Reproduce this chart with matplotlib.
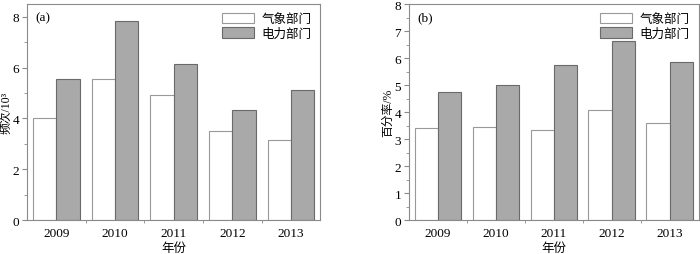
import numpy as np
import matplotlib
matplotlib.use('Agg')
import matplotlib.pyplot as plt
from matplotlib.ticker import MultipleLocator, FixedLocator

years = ['2009', '2010', '2011', '2012', '2013']
freq_met = [4.03, 5.54, 4.91, 3.51, 3.17]
freq_power = [5.54, 7.85, 6.13, 4.35, 5.10]
pct_met = [3.40, 3.46, 3.32, 4.06, 3.58]
pct_power = [4.75, 5.00, 5.73, 6.62, 5.86]
labels = ['气象部门', '电力部门']

plt.rcParams['font.family'] = ['Liberation Serif', 'Noto Sans CJK SC']
plt.rcParams['font.size'] = 9.5

spine_col = '#8a8a8a'
fig = plt.figure(figsize=(7, 2.55), dpi=100)
ax1 = fig.add_axes([0.0386, 0.133, 0.419, 0.847])
ax2 = fig.add_axes([0.584, 0.133, 0.414, 0.847])

x = np.arange(len(years))
w = 0.4


def draw(ax, a, b, ylim, major, minor, ylabel, tag):
    ax.bar(x - w / 2, a, w, color='white', edgecolor='#999999', linewidth=0.8, label=labels[0])
    ax.bar(x + w / 2, b, w, color='#a9a9a9', edgecolor='#6a6a6a', linewidth=0.8, label=labels[1])
    ax.set_xlim(-0.5, 4.5)
    ax.set_ylim(*ylim)
    ax.set_xticks(x)
    ax.set_xticklabels(years)
    ax.xaxis.set_minor_locator(FixedLocator(x[:-1] + 0.5))
    ax.yaxis.set_major_locator(MultipleLocator(major))
    ax.yaxis.set_minor_locator(MultipleLocator(minor))
    ax.tick_params(axis='x', which='major', length=0, pad=5)
    ax.tick_params(axis='x', which='minor', length=2, color=spine_col)
    ax.tick_params(axis='y', which='major', length=3.5, color=spine_col, pad=2)
    ax.tick_params(axis='y', which='minor', length=2, color=spine_col)
    for s in ax.spines.values():
        s.set_color(spine_col)
        s.set_linewidth(0.8)
    ax.set_xlabel('年份', labelpad=2, fontsize=9)
    ax.set_ylabel(ylabel, labelpad=0, fontsize=8.5)
    ax.text(0.03, 0.965, tag, transform=ax.transAxes, va='top', ha='left')
    ax.legend(loc='upper right', frameon=False, handlelength=2.6, handleheight=0.9,
              borderaxespad=0.3, labelspacing=0.15, handletextpad=0.6, fontsize=9)


draw(ax1, freq_met, freq_power, (0, 8.5), 2, 1, '频次/10³', '(a)')
draw(ax2, pct_met, pct_power, (0, 8), 1, 0.5, '百分率/%', '(b)')

fig.savefig('out.png', dpi=100)
